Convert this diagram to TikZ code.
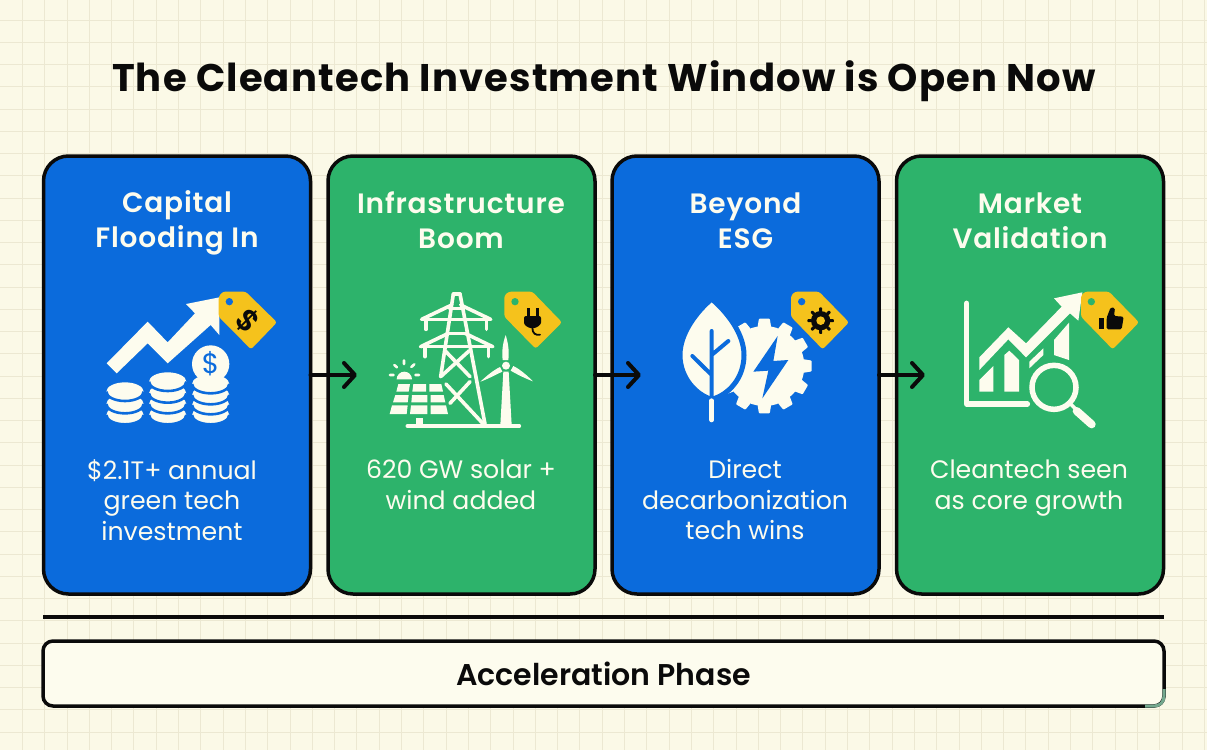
\documentclass[tikz,border=0pt]{standalone}
\usepackage{fontspec}
\usetikzlibrary{arrows.meta}
\setmainfont{Poppins}[BoldFont={Poppins SemiBold}]
\newfontfamily\headfont{Poppins}[LetterSpace=3,BoldFont={Poppins SemiBold}]
\newfontfamily\titlefont{Poppins}[LetterSpace=3,BoldFont={Poppins Bold}]
\definecolor{bgc}{HTML}{FBF9E7}
\definecolor{gridc}{HTML}{ECE8D2}
\definecolor{bluec}{HTML}{0B6BDC}
\definecolor{greenc}{HTML}{2DB36B}
\definecolor{tagc}{HTML}{F5C21C}
\definecolor{whitec}{HTML}{FDFCEE}
\definecolor{inkc}{HTML}{0A0A0A}
\definecolor{glitchc}{HTML}{74A88E}
\tikzset{
 card/.style={draw=inkc,line width=3.5pt,rounded corners=25pt,minimum width=267pt,minimum height=438pt,outer sep=0pt,inner sep=0pt},
 bluecard/.style={card,fill=bluec},
 greencard/.style={card,fill=greenc},
 gridline/.style={draw=gridc,line width=1pt},
 headtext/.style={text=whitec,align=center,font=\headfont\bfseries\fontsize{28}{35}\selectfont,inner sep=0pt},
 bodytext/.style={text=whitec,align=center,font=\fontsize{25.2}{30.5}\selectfont,inner sep=0pt},
 flow/.style={draw=inkc,line width=4pt,line cap=round,-{Straight Barb[length=11pt,width=24pt,line width=4pt,round]}},
 ico/.style={fill=whitec,draw=none},
 icoline/.style={draw=whitec,line cap=round,line join=round},
 tagshape/.style={fill=tagc,draw=none,rounded corners=2.5pt},
 zoomed/.style={x=0.33333pt,y=-0.33333pt},
}
\newcommand{\mygear}[6]{% cx cy Router Rinner colour teeth-step
 \begin{scope}[shift={(#1,#2)}]
  \fill[#5] (0,0) circle (#4);
  \foreach \a in {0,#6,...,359}{
   \fill[#5,rounded corners=0.8pt] ({\a-10}:{#4-2}) -- ({\a-6.5}:#3) -- ({\a+6.5}:#3) -- ({\a+10}:{#4-2}) -- cycle;
  }
 \end{scope}}
\newcommand{\coinstack}[2]{% x, list of y from bottom
 \foreach \yy [count=\n] in {#2}{
  \fill[whitec] (#1,\yy) ellipse (56 and 28);
  \draw[bluec,line width=2.6pt] (#1-56,\yy) arc (180:0:56 and 28);
 }}
\begin{document}
\begin{tikzpicture}[x=1pt,y=-1pt]
\useasboundingbox (0,0) rectangle (1207,750);
\fill[bgc] (0,0) rectangle (1207,750);
\foreach \i in {0,...,53} \draw[gridline] ({22.4+22.3*\i},0) -- ({22.4+22.3*\i},750);
\foreach \i in {0,...,33} \draw[gridline] (0,{20+22.25*\i}) -- (1207,{20+22.25*\i});

\node[anchor=base,inner sep=0pt,text=inkc,font=\titlefont\bfseries\fontsize{38.5}{44}\selectfont] (title) at (604,91.5) {The Cleantech Investment Window is Open Now};

\node[bluecard] (c1) at (177,375) {};
\node[greencard] (c2) at (461.5,375) {};
\node[bluecard] (c3) at (745.5,375) {};
\node[greencard] (c4) at (1030,375) {};

\coordinate (a1) at (357,375);
\coordinate (a2) at (641,375);
\coordinate (a3) at (925,375);
\draw[flow] (c1.east) -- (a1);
\draw[flow] (c2.east) -- (a2);
\draw[flow] (c3.east) -- (a3);

\node[headtext] (h1) at (177,223) {Capital\\Flooding In};
\node[headtext] (h2) at (461,220.5) {Infrastructure\\Boom};
\node[headtext] (h3) at (745.5,220.5) {Beyond\\ESG};
\node[headtext] (h4) at (1030,220.5) {Market\\Validation};

\node[bodytext] (b1) at (172,500) {\$2.1T+ annual\\green tech\\investment};
\node[bodytext] (b2) at (461,485) {620 GW solar +\\wind added};
\node[bodytext] (b3) at (745,500) {Direct\\decarbonization\\tech wins};
\node[bodytext] (b4) at (1029,488) {Cleantech seen\\as core growth};

% --- icon 1
\begin{scope}[xshift=80pt,yshift=-280pt,zoomed]
 \fill[ico] (80,250) -- (203,125) -- (263,187) -- (345,100) -- (318,72) -- (418,52) -- (418,165) -- (392,135) -- (263,250) -- (203,190) -- (110,280) -- cycle;
 \coinstack{135}{405,372,335}
 \coinstack{263}{405,372,340,305}
 \coinstack{392}{405,375,345,312}
 \fill[whitec] (392,252) circle (56);
 \node[text=bluec,font=\fontsize{28}{28}\selectfont,inner sep=0pt] (d1) at (392,252) {\$};
 \fill[tagshape] (416,50) -- (428,35) -- (497,35) -- (591,127) -- (513,208) -- (416,110) -- cycle;
 \fill[bluec] (448,65) circle (11);
 \node[text=inkc,rotate=-45,font=\bfseries\fontsize{30}{30}\selectfont,inner sep=0pt] (d2) at (505,122) {\$};
\end{scope}

% --- icon 2
\begin{scope}[xshift=370pt,yshift=-280pt,zoomed]
 \begin{scope}[icoline,line width=3.6pt]
  \draw (250,42) -- (270,42);
  \draw (250,42) -- (212,290);
  \draw (270,42) -- (345,432);
  \draw (155,118) -- (362,118);
  \draw (155,118) -- (245,75) (362,118) -- (272,75);
  \draw (168,118) -- (168,148) (350,118) -- (350,148);
  \draw (152,200) -- (368,200);
  \draw (152,200) -- (235,160) (368,200) -- (285,160);
  \draw (165,200) -- (165,230) (355,200) -- (355,230);
  \draw (238,85) -- (280,85) (230,160) -- (288,160);
  \draw (225,212) -- (300,290) (298,212) -- (212,290);
  \draw (300,305) -- (240,370) (228,312) -- (340,432);
  \draw (112,438) -- (448,438);
 \end{scope}
 \fill[ico] (85,312) -- (120,312) -- (116,335) -- (79,335) -- cycle;
 \fill[ico] (130,312) -- (168,312) -- (168,335) -- (127,335) -- cycle;
 \fill[ico] (178,312) -- (214,312) -- (219,335) -- (178,335) -- cycle;
 \fill[ico] (76,345) -- (116,345) -- (113,367) -- (69,367) -- cycle;
 \fill[ico] (126,345) -- (172,345) -- (172,367) -- (124,367) -- cycle;
 \fill[ico] (182,345) -- (221,345) -- (226,367) -- (182,367) -- cycle;
 \fill[ico] (66,376) -- (113,376) -- (110,402) -- (59,402) -- cycle;
 \fill[ico] (123,376) -- (172,376) -- (172,402) -- (120,402) -- cycle;
 \fill[ico] (182,376) -- (228,376) -- (234,402) -- (182,402) -- cycle;
 \fill[ico] (138,415) rectangle (158,438);
 \fill[ico] (80,298) arc (180:360:23) -- cycle;
 \draw[icoline,line width=2.6pt] (102,241) -- (102,252) (73,255) -- (81,262) (133,253) -- (124,261) (60,285) -- (71,285) (136,285) -- (147,285);
 \fill[ico] (407,165) .. controls (398,190) and (395,215) .. (398,240) -- (415,240) .. controls (418,215) and (415,190) .. (407,165) -- cycle;
 \fill[ico] (489,304) .. controls (470,285) and (450,268) .. (430,258) -- (422,272) .. controls (445,285) and (465,295) .. (489,304) -- cycle;
 \fill[ico] (331,305) .. controls (352,298) and (375,285) .. (397,275) -- (390,261) .. controls (368,272) and (350,288) .. (331,305) -- cycle;
 \fill[ico] (408,257) circle (12);
 \fill[ico] (400,275) -- (416,275) -- (425,435) -- (391,435) -- cycle;
 \fill[tagshape] (403,47) -- (416,35) -- (487,35) -- (576,127) -- (497,206) -- (403,110) -- cycle;
 \fill[greenc] (435,65) circle (11);
 \draw[inkc,line width=3pt,line cap=butt] (475,84) -- (475,112) (501,84) -- (501,112);
 \fill[inkc,rounded corners=2pt] (462,108) -- (513,108) -- (513,122) .. controls (513,135) and (500,143) .. (487,145) .. controls (474,143) and (462,135) .. (462,122) -- cycle;
 \draw[inkc,line width=1.8pt,line cap=round] (487,143) .. controls (487,160) and (497,167) .. (510,164);
\end{scope}

% --- icon 3
\begin{scope}[xshift=660pt,yshift=-280pt,zoomed]
 \mygear{313}{258}{143}{120}{whitec}{30}
 \fill[bluec] (353,168) -- (280,275) -- (325,272) -- (307,355) -- (385,240) -- (340,243) -- cycle;
 \path[fill=whitec,draw=bluec,line width=5pt] (155,57) .. controls (110,95) and (60,160) .. (60,225) .. controls (60,295) and (110,345) .. (155,358) .. controls (205,345) and (252,295) .. (252,225) .. controls (252,160) and (200,95) .. (155,57) -- cycle;
 \draw[bluec,line width=4pt,line cap=round] (155,153) -- (155,358) (155,225) -- (205,183) (155,285) -- (97,228);
 \draw[whitec,line width=4.6pt,line cap=round] (155,362) -- (155,420);
 \fill[tagshape] (393,47) -- (405,35) -- (477,35) -- (567,127) -- (488,208) -- (393,110) -- cycle;
 \fill[bluec] (425,65) circle (11);
 \mygear{482}{122}{40}{29}{inkc}{45}
 \fill[tagc] (482,122) circle (13);
\end{scope}

% --- icon 4
\begin{scope}[xshift=950pt,yshift=-280pt,zoomed]
 \draw[icoline,line width=5.5pt] (50,70) -- (50,372) -- (232,372);
 \fill[ico] (88,300) -- (130,258) -- (130,335) -- (88,335) -- cycle;
 \fill[ico] (163,225) -- (178,212) -- (207,240) -- (207,335) -- (163,335) -- cycle;
 \fill[ico] (238,245) -- (280,205) -- (280,225) -- (238,265) -- cycle;
 \fill[ico] (312,180) -- (357,128) -- (357,240) -- (312,225) -- cycle;
 \fill[ico] (88,232) -- (175,142) -- (228,190) -- (335,80) -- (312,55) -- (397,37) -- (385,122) -- (360,100) -- (228,232) -- (175,178) -- (88,270) -- cycle;
 \fill[greenc] (312,322) circle (82);
 \draw[whitec,line width=5.5pt] (312,322) circle (66);
 \draw[whitec,line width=3.5pt] (360,370) -- (385,395);
 \draw[whitec,line width=8pt,line cap=round] (380,393) -- (425,433);
 \fill[tagshape] (393,47) -- (405,35) -- (477,35) -- (567,127) -- (488,208) -- (393,110) -- cycle;
 \fill[greenc] (424,65) circle (11);
 \fill[inkc] (447,113) rectangle (462,148);
 \fill[inkc,rounded corners=1.5pt] (470,113) -- (482,82) -- (495,84) -- (492,108) -- (521,110) -- (515,148) -- (470,148) -- cycle;
\end{scope}

\coordinate (r1) at (43,617);
\coordinate (r2) at (1164,617);
\draw[draw=inkc,line width=4.5pt] (r1) -- (r2);
\node[draw=inkc,fill=whitec,line width=3.5pt,rounded corners=10pt,minimum width=1121pt,minimum height=65pt,inner sep=0pt,outer sep=0pt,text=inkc,font=\bfseries\fontsize{30}{34}\selectfont] (phase) at (603.5,673.5) {Acceleration Phase};
\draw[glitchc,line width=3pt] (1164,689) -- (1164,696) .. controls (1164,702) and (1160,706) .. (1154,706) -- (1145,706);
\end{tikzpicture}
\end{document}
